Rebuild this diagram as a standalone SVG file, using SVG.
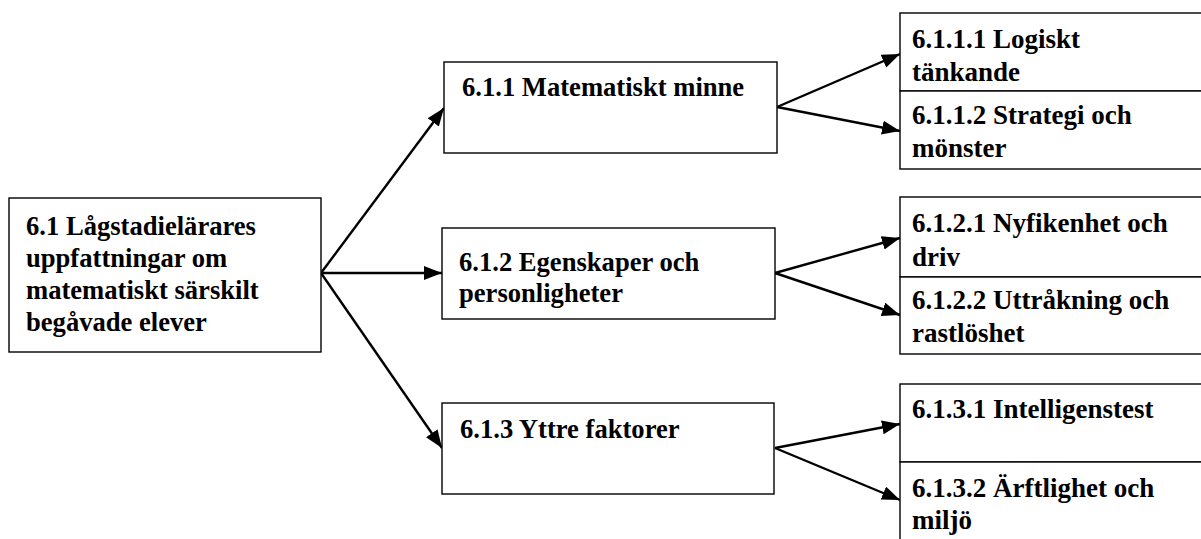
<svg xmlns="http://www.w3.org/2000/svg" width="1201" height="539" viewBox="0 0 1201 539">
<defs>
<style>
.box{fill:#fff;stroke:#000;stroke-width:1.4}
.t{font-family:"Liberation Serif","Times New Roman",serif;font-weight:bold;font-size:26.6px;fill:#000}
.tr{font-family:"Liberation Serif","Times New Roman",serif;font-weight:bold;font-size:27px;fill:#000}
.c{fill:none;stroke:#000;stroke-width:2.4}
</style>
<marker id="ah" markerUnits="userSpaceOnUse" markerWidth="19" markerHeight="15" refX="18" refY="7" orient="auto">
<path d="M0,0 L18,7 L0,14 z" fill="#000"/>
</marker>
</defs>
<rect width="1201" height="539" fill="#fff"/>
<g id="connectors">
<line class="c" x1="321" y1="273" x2="444" y2="108" marker-end="url(#ah)"/>
<line class="c" x1="321" y1="273" x2="442" y2="273" marker-end="url(#ah)"/>
<line class="c" x1="321" y1="273" x2="442" y2="448" marker-end="url(#ah)"/>
<line class="c" x1="777" y1="107" x2="900" y2="54" marker-end="url(#ah)"/>
<line class="c" x1="777" y1="107" x2="900" y2="131" marker-end="url(#ah)"/>
<line class="c" x1="775" y1="273" x2="900" y2="238" marker-end="url(#ah)"/>
<line class="c" x1="775" y1="273" x2="900" y2="315" marker-end="url(#ah)"/>
<line class="c" x1="775" y1="448" x2="900" y2="424" marker-end="url(#ah)"/>
<line class="c" x1="775" y1="448" x2="900" y2="500" marker-end="url(#ah)"/>
</g>
<g id="n61">
<rect class="box" x="9" y="198" width="312" height="154"/>
<text class="t" x="26" y="235">6.1 Lågstadielärares</text>
<text class="t" x="26" y="267">uppfattningar om</text>
<text class="t" x="26" y="299">matematiskt särskilt</text>
<text class="t" x="26" y="331">begåvade elever</text>
</g>
<g id="n611">
<rect class="box" x="444" y="62" width="333" height="91"/>
<text class="t" x="462" y="96">6.1.1 Matematiskt minne</text>
</g>
<g id="n612">
<rect class="box" x="442" y="228" width="333" height="91"/>
<text class="t" x="459" y="271">6.1.2 Egenskaper och</text>
<text class="t" x="459" y="302">personligheter</text>
</g>
<g id="n613">
<rect class="box" x="442" y="403" width="332" height="91"/>
<text class="t" x="460" y="438">6.1.3 Yttre faktorer</text>
</g>
<g id="n6111">
<rect class="box" x="900" y="13" width="320" height="78"/>
<text class="tr" x="912" y="48">6.1.1.1 Logiskt</text>
<text class="tr" x="912" y="81">tänkande</text>
</g>
<g id="n6112">
<rect class="box" x="900" y="91" width="320" height="78"/>
<text class="tr" x="912" y="124">6.1.1.2 Strategi och</text>
<text class="tr" x="912" y="157">mönster</text>
</g>
<g id="n6121">
<rect class="box" x="900" y="197" width="320" height="80"/>
<text class="tr" x="912" y="232">6.1.2.1 Nyfikenhet och</text>
<text class="tr" x="912" y="266">driv</text>
</g>
<g id="n6122">
<rect class="box" x="900" y="277" width="320" height="77"/>
<text class="tr" x="912" y="309">6.1.2.2 Uttråkning och</text>
<text class="tr" x="912" y="342">rastlöshet</text>
</g>
<g id="n6131">
<rect class="box" x="900" y="384" width="320" height="78"/>
<text class="tr" x="912" y="418">6.1.3.1 Intelligenstest</text>
</g>
<g id="n6132">
<rect class="box" x="900" y="462" width="320" height="100"/>
<text class="tr" x="912" y="497">6.1.3.2 Ärftlighet och</text>
<text class="tr" x="912" y="529">miljö</text>
</g>
</svg>
